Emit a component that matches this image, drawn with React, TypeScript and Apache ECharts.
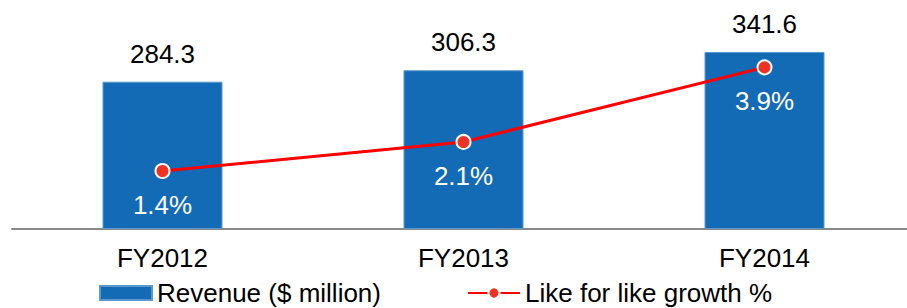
import React, { useEffect, useRef } from "react";
import * as echarts from "echarts";

const categories = ["FY2012", "FY2013", "FY2014"];
const revenue = [284.3, 306.3, 341.6];
const growth = [1.4, 2.1, 3.9];
const seriesNames = ["Revenue ($ million)", "Like for like growth %"];

const FONT = "'Liberation Sans', Arial, sans-serif";

export default function App() {
  const ref = useRef<HTMLDivElement>(null);
  useEffect(() => {
    if (!ref.current) return;
    const chart = echarts.init(ref.current, undefined, { renderer: "svg" });
    chart.setOption({
      animation: false,
      textStyle: { fontFamily: FONT },
      grid: { left: 12, top: 1, width: 903, height: 228, containLabel: false },
      legend: {
        left: 94,
        top: 275,
        itemWidth: 52,
        itemHeight: 14,
        itemGap: 86,
        textStyle: { fontSize: 26, lineHeight: 24, color: "#000", fontFamily: FONT },
        data: [
          { name: seriesNames[0], icon: "rect" },
          { name: seriesNames[1] },
        ],
      },
      xAxis: {
        type: "category",
        data: categories,
        axisLine: { lineStyle: { color: "#898989", width: 2 } },
        axisTick: { show: false },
        axisLabel: { fontSize: 26, color: "#000", margin: 16, fontFamily: FONT },
      },
      yAxis: [
        { type: "value", min: 0, max: 440, show: false, splitLine: { show: false } },
        { type: "value", min: 0, max: 5.5, show: false, splitLine: { show: false } },
      ],
      series: [
        {
          name: seriesNames[0],
          type: "bar",
          data: revenue,
          barWidth: 120,
          itemStyle: { color: "#146bb5", borderColor: "#5d97cf", borderWidth: 1 },
          label: {
            show: true,
            position: "top",
            distance: 15,
            fontSize: 26,
            color: "#000",
            fontFamily: FONT,
            formatter: (p: any) => p.value.toFixed(1),
          },
        },
        {
          name: seriesNames[1],
          type: "line",
          yAxisIndex: 1,
          data: growth,
          z: 5,
          symbol: "circle",
          symbolSize: 14,
          lineStyle: { color: "#ff0000", width: 3 },
          itemStyle: { color: "#ee3224", borderColor: "#fff", borderWidth: 2 },
          label: {
            show: true,
            position: "bottom",
            distance: 13,
            fontSize: 26,
            color: "#fff",
            fontFamily: FONT,
            formatter: (p: any) => p.value.toFixed(1) + "%",
          },
        },
      ],
    });
    return () => chart.dispose();
  }, []);
  return (
    <div
      style={{ position: "fixed", left: 0, top: 0, width: 907, height: 308, overflow: "hidden", background: "#fff" }}
    >
      <div ref={ref} style={{ width: 920, height: 308 }} />
    </div>
  );
}
